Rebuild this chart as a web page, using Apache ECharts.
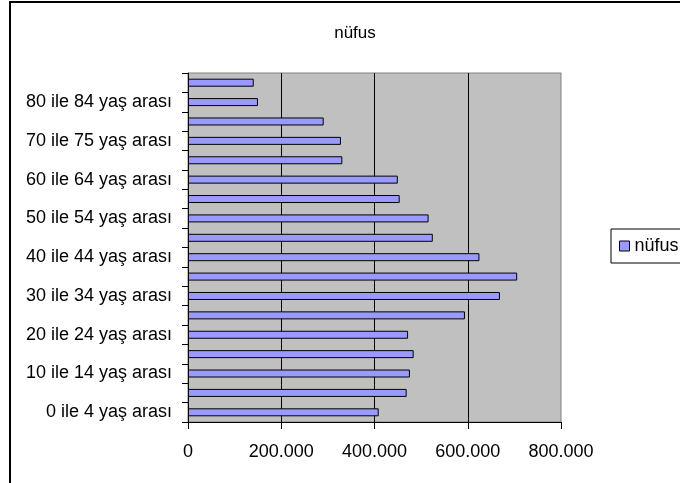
<!DOCTYPE html>
<html>
<head>
<meta charset="utf-8">
<script src="https://cdn.jsdelivr.net/npm/echarts@6/dist/echarts.min.js"></script>
<style>
html,body{margin:0;padding:0;background:#fff;}
#chart{width:680px;height:483px;}
</style>
</head>
<body>
<div id="chart"></div>
<script>
var titleText = 'nüfus';
var seriesName = 'nüfus';
var categories = [
  '0 ile 4 yaş arası', '5 ile 9 yaş arası', '10 ile 14 yaş arası', '15 ile 19 yaş arası',
  '20 ile 24 yaş arası', '25 ile 29 yaş arası', '30 ile 34 yaş arası', '35 ile 39 yaş arası',
  '40 ile 44 yaş arası', '45 ile 49 yaş arası', '50 ile 54 yaş arası', '55 ile 59 yaş arası',
  '60 ile 64 yaş arası', '65 ile 69 yaş arası', '70 ile 75 yaş arası', '75 ile 79 yaş arası',
  '80 ile 84 yaş arası', '85 yaş ve üzeri'
];
var values = [
  409000, 469000, 476000, 484000,
  472000, 594000, 669000, 706000,
  625000, 525000, 516000, 454000,
  450000, 331000, 328000, 291000,
  150000, 141000
];
var axisMin = 0, axisMax = 800000, axisStep = 200000;

var FONT = 'Liberation Sans, Arial, sans-serif';
function fmt(v) {
  return String(v).replace(/\B(?=(\d{3})+(?!\d))/g, '.');
}

var chart = echarts.init(document.getElementById('chart'));
chart.setOption({
  animation: false,
  backgroundColor: '#fff',
  textStyle: { fontFamily: FONT, color: '#000' },
  title: {
    text: titleText,
    left: 350, textAlign: 'center',
    top: 20,
    textStyle: { fontFamily: FONT, fontSize: 17, fontWeight: 'normal', color: '#000' }
  },
  graphic: [{
    type: 'rect',
    shape: { x: 10, y: 2, width: 720, height: 540 },
    style: { fill: 'none', stroke: '#000', lineWidth: 2 },
    silent: true, z: 100
  }],
  legend: {
    data: [seriesName],
    left: 611, top: 229,
    orient: 'vertical',
    padding: [8, 20, 8, 8],
    backgroundColor: '#fff',
    borderColor: '#000', borderWidth: 1, borderRadius: 0,
    itemWidth: 10, itemHeight: 10, itemGap: 5,
    icon: 'rect',
    itemStyle: { borderColor: '#000', borderWidth: 1 },
    textStyle: { fontFamily: FONT, fontSize: 18, color: '#000', padding: [0, 0, 0, 0] }
  },
  grid: {
    left: 188, right: 119, top: 73, bottom: 61,
    show: true, backgroundColor: '#C0C0C0',
    borderColor: '#808080', borderWidth: 1
  },
  xAxis: {
    type: 'value',
    min: axisMin, max: axisMax, interval: axisStep,
    axisLine: { show: true, lineStyle: { color: '#000', width: 1 } },
    axisTick: { show: true, length: 7, lineStyle: { color: '#000' } },
    axisLabel: { margin: 21, fontFamily: FONT, fontSize: 18, color: '#000', formatter: fmt },
    splitLine: { show: true, showMinLine: false, showMaxLine: false, lineStyle: { color: '#000', width: 1 } }
  },
  yAxis: {
    type: 'category',
    data: categories,
    axisLine: { show: true, lineStyle: { color: '#000', width: 1 } },
    axisTick: { show: true, interval: 0, length: 6, lineStyle: { color: '#000' } },
    axisLabel: { interval: 1, margin: 16, fontFamily: FONT, fontSize: 18, color: '#000' },
    splitLine: { show: false }
  },
  series: [{
    name: seriesName,
    type: 'bar',
    data: values,
    barWidth: 8,
    itemStyle: { color: '#9999FF', borderColor: '#000', borderWidth: 1 }
  }]
});
</script>
</body>
</html>
